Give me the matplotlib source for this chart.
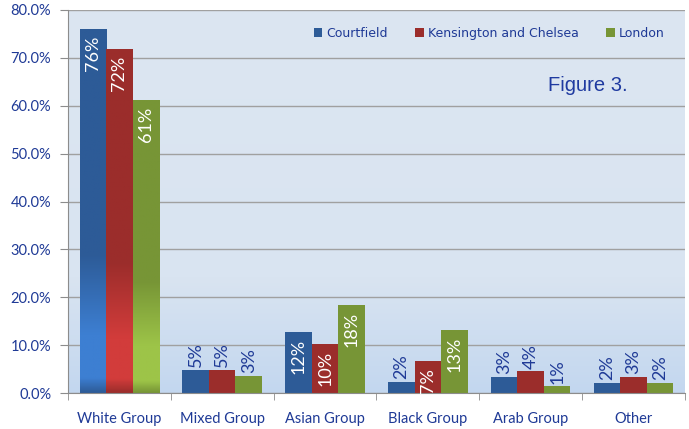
import matplotlib.pyplot as plt
import numpy as np
from matplotlib.colors import LinearSegmentedColormap

categories = ["White Group", "Mixed Group", "Asian Group", "Black Group", "Arab Group", "Other"]
series = ["Courtfield", "Kensington and Chelsea", "London"]
courtfield = [76.0, 4.8, 12.7, 2.4, 3.3, 2.1]
kensington = [71.8, 4.8, 10.2, 6.7, 4.5, 3.3]
london = [61.3, 3.6, 18.4, 13.2, 1.4, 2.1]
labels = [
    ["76%", "5%", "12%", "2%", "3%", "2%"],
    ["72%", "5%", "10%", "7%", "4%", "3%"],
    ["61%", "3%", "18%", "13%", "1%", "2%"],
]

dark = ["#2d5b97", "#9b2d2b", "#779536"]
light = ["#3d7fd2", "#d23c3b", "#9dc448"]
text_blue = "#1f3a96"

plt.rcParams['font.family'] = ['Lato', 'DejaVu Sans']

fig = plt.figure(figsize=(6.89, 4.29), dpi=100)
ax = fig.add_axes([0.0987, 0.0839, 0.8953, 0.8928])

# plot area background: flat at top, bluer toward the bottom
bg = LinearSegmentedColormap.from_list("bg", [(0, "#c3d7ef"), (0.3, "#d9e4f1"), (1, "#dce6f2")])
grad = np.linspace(0, 1, 256).reshape(-1, 1)
ax.imshow(grad, cmap=bg, origin="lower", aspect="auto", extent=[0, 1, 0, 1],
          transform=ax.transAxes, zorder=0)

x = np.arange(len(categories))
w = 0.258
data = [courtfield, kensington, london]
for i, vals in enumerate(data):
    pos = x + (i - 1) * w
    bars = ax.bar(pos, vals, w, color=dark[i], zorder=2, label=series[i])
    # gradient on the tall first-category bar
    b = bars[0]
    cm = LinearSegmentedColormap.from_list("g%d" % i, [(0, dark[i]), (0.04, light[i]), (0.16, light[i]),
                                                     (0.38, dark[i]), (1, dark[i])])
    im = ax.imshow(grad, cmap=cm, origin="lower", aspect="auto",
                   extent=[b.get_x(), b.get_x() + w, 0, vals[0]], zorder=2.5)
    im.set_clip_path(b)
    for j, v in enumerate(vals):
        if v > 6:
            ax.annotate(labels[i][j], (pos[j], v), xytext=(0, -5), textcoords="offset points",
                        rotation=90, ha="center", va="top", color="white", fontsize=13, zorder=4)
        else:
            ax.annotate(labels[i][j], (pos[j], v), xytext=(0, 2), textcoords="offset points",
                        rotation=90, ha="center", va="bottom", color=text_blue, fontsize=13, zorder=4)

ax.set_xlim(-0.5, len(categories) - 0.5)
ax.set_ylim(0, 80)
ax.set_yticks(np.arange(0, 81, 10))
ax.set_yticklabels(["%.1f%%" % t for t in np.arange(0, 81, 10)])
ax.set_xticks(x)
ax.set_xticklabels(categories)
ax.set_xticks(np.arange(-0.5, len(categories)), minor=True)
ax.tick_params(axis="x", which="major", length=0, pad=14, labelsize=10.5, labelcolor=text_blue)
ax.tick_params(axis="x", which="minor", length=5, color="#8c8c8c")
ax.tick_params(axis="y", length=6, color="#8c8c8c", labelsize=10.5, labelcolor=text_blue, pad=6)
ax.grid(axis="y", color="#a0a0a0", linewidth=1, zorder=1)
ax.set_axisbelow(True)
for s in ["top", "right"]:
    ax.spines[s].set_visible(False)
for s in ["left", "bottom"]:
    ax.spines[s].set_color("#8c8c8c")
    ax.spines[s].set_zorder(3)

leg = ax.legend(loc="upper right", bbox_to_anchor=(0.985, 0.985), ncol=3, frameon=False,
                handlelength=0.7, handleheight=0.7, handletextpad=0.3, columnspacing=2.2,
                prop={"family": "DejaVu Sans", "size": 9})
for t in leg.get_texts():
    t.set_color(text_blue)

ax.text(0.843, 0.804, "Figure 3.", transform=ax.transAxes, ha="center", va="center",
        fontsize=14.5, color="#1f3aa0", family="Liberation Sans")

plt.savefig("out.png", dpi=100)
